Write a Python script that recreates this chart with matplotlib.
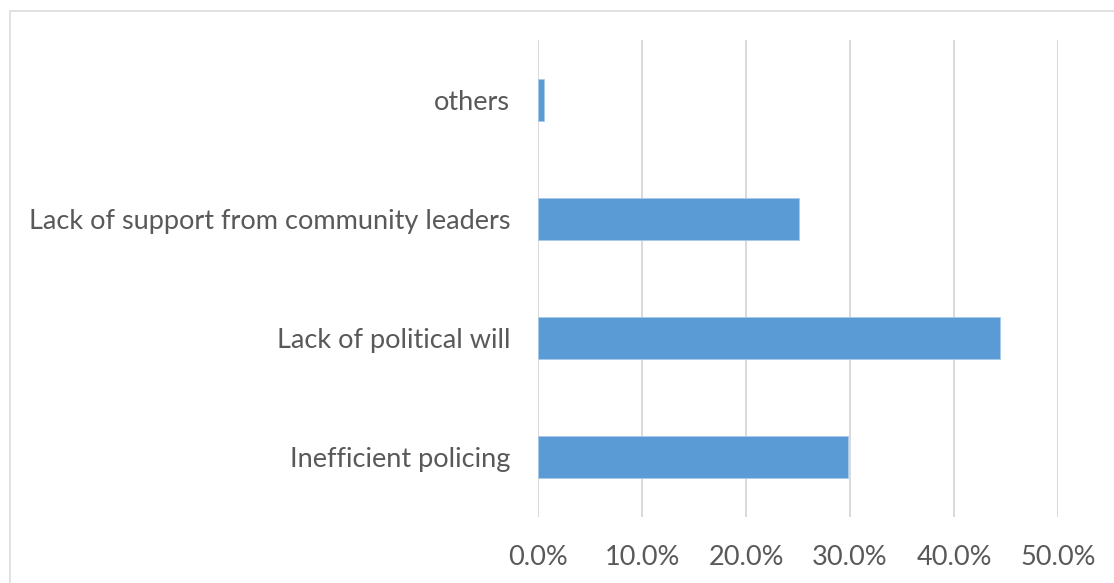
import matplotlib
matplotlib.use("Agg")
import matplotlib.pyplot as plt
from matplotlib.patches import Rectangle
from matplotlib.ticker import PercentFormatter

# Survey shares (fraction of respondents), listed bottom to top
categories = ["Inefficient policing", "Lack of political will",
              "Lack of support from community leaders", "others"]
shares = [0.298, 0.444, 0.251, 0.006]
x_ticks = [0.0, 0.1, 0.2, 0.3, 0.4, 0.5]

BAR = "#5B9BD5"
GRID = "#D9D9D9"
TEXT = "#595959"
W, H = 1114, 583

plt.rcParams["font.family"] = ["Lato", "DejaVu Sans"]

fig = plt.figure(figsize=(W / 100, H / 100), dpi=100)
fig.patch.set_facecolor("white")

# chart-area frame (left and top edges visible)
fig.patches.append(Rectangle((10 / W, -0.05), 1.2, (H - 11) / H + 0.05,
                             transform=fig.transFigure, fill=False,
                             edgecolor=GRID, linewidth=1.1, zorder=0))

ax = fig.add_axes([538 / W, (H - 517) / H, 520 / W, 477 / H])
ypos = range(len(categories))
ax.barh(ypos, shares, height=0.352, color=BAR, edgecolor="#A9C9EA",
        linewidth=0.6, zorder=3)

ax.set_xlim(0, 0.5)
ax.set_ylim(-0.5, len(categories) - 0.5)
ax.set_xticks(x_ticks)
ax.xaxis.set_major_formatter(PercentFormatter(xmax=1.0, decimals=1))
ax.set_yticks(list(ypos))
ax.set_yticklabels(categories)

ax.grid(axis="x", color=GRID, linewidth=1.4, zorder=0)
ax.set_axisbelow(True)
for s in ax.spines.values():
    s.set_visible(False)
ax.tick_params(axis="both", length=0, colors=TEXT, labelsize=19.5)
ax.tick_params(axis="x", pad=20)
ax.tick_params(axis="y", pad=20)

fig.savefig("out.png", dpi=100, facecolor="white")
